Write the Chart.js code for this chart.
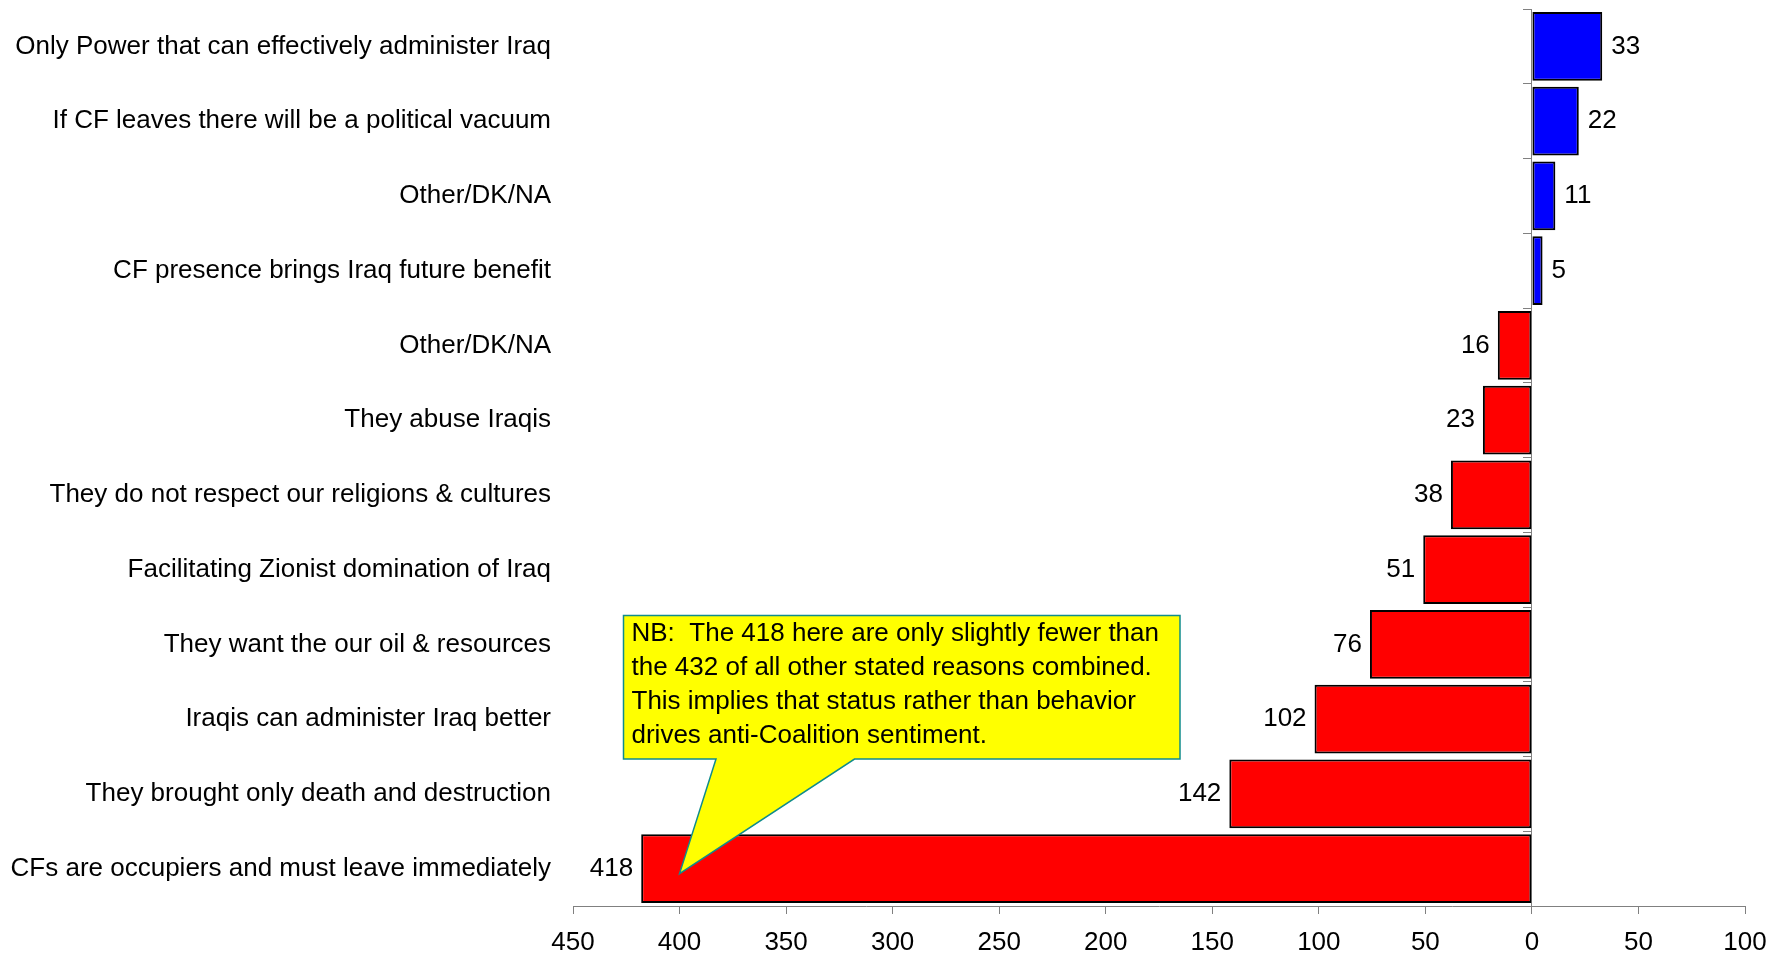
<!DOCTYPE html>
<html>
<head>
<meta charset="utf-8">
<script src="https://cdn.jsdelivr.net/npm/chart.js@4"></script>
<style>
  html, body { margin: 0; padding: 0; background: #ffffff; }
  #wrap { position: relative; width: 1784px; height: 955px; }
</style>
</head>
<body>
<div id="wrap"><canvas id="c"></canvas></div>
<script>
const categories = [
  "Only Power that can effectively administer Iraq",
  "If CF leaves there will be a political vacuum",
  "Other/DK/NA",
  "CF presence brings Iraq future benefit",
  "Other/DK/NA",
  "They abuse Iraqis",
  "They do not respect our religions & cultures",
  "Facilitating Zionist domination of Iraq",
  "They want the our oil & resources",
  "Iraqis can administer Iraq better",
  "They brought only death and destruction",
  "CFs are occupiers and must leave immediately"
];
const values = [33, 22, 11, 5, -16, -23, -38, -51, -76, -102, -142, -418];
const xMin = -450, xMax = 100, xStep = 50;
const calloutLines = [
  "NB:  The 418 here are only slightly fewer than",
  "the 432 of all other stated reasons combined.",
  "This implies that status rather than behavior",
  "drives anti-Coalition sentiment."
];
const calloutTarget = { x: -400, index: 11 };

const FONT = "'Liberation Sans', Arial, sans-serif";

const valueLabels = {
  id: 'valueLabels',
  afterDatasetsDraw(chart) {
    const ctx = chart.ctx;
    const meta = chart.getDatasetMeta(0);
    ctx.save();
    ctx.font = "26px " + FONT;
    ctx.fillStyle = '#000';
    ctx.textBaseline = 'middle';
    meta.data.forEach((bar, i) => {
      const v = values[i];
      if (v >= 0) {
        ctx.textAlign = 'left';
        ctx.fillText(String(Math.abs(v)), bar.x + 9, bar.y);
      } else {
        ctx.textAlign = 'right';
        ctx.fillText(String(Math.abs(v)), bar.x - 8, bar.y);
      }
    });
    ctx.restore();
  }
};

const callout = {
  id: 'callout',
  afterDraw(chart) {
    const ctx = chart.ctx;
    const xs = chart.scales.x, ys = chart.scales.y;
    const tipX = xs.getPixelForValue(calloutTarget.x);
    const tipY = ys.getPixelForValue(calloutTarget.index) + 5;
    const L = 623.5, R = 1180, T = 615.5, B = 759;
    const b1 = 716, b2 = 854.5;
    ctx.save();
    ctx.beginPath();
    ctx.moveTo(L, T);
    ctx.lineTo(R, T);
    ctx.lineTo(R, B);
    ctx.lineTo(b2, B);
    ctx.lineTo(tipX, tipY);
    ctx.lineTo(b1, B);
    ctx.lineTo(L, B);
    ctx.closePath();
    ctx.fillStyle = '#FFFF00';
    ctx.fill();
    ctx.lineWidth = 1.5;
    ctx.strokeStyle = '#108C8C';
    ctx.lineJoin = 'miter';
    ctx.stroke();
    ctx.font = "26px " + FONT;
    ctx.fillStyle = '#000';
    ctx.textAlign = 'left';
    ctx.textBaseline = 'middle';
    calloutLines.forEach((ln, i) => {
      ctx.fillText(ln, L + 8, T + 18 + i * 34);
    });
    ctx.restore();
  }
};

function noPad(s) { s.paddingTop = 0; s.paddingBottom = 0; }

new Chart(document.getElementById('c'), {
  type: 'bar',
  data: {
    labels: categories,
    datasets: [{
      data: values,
      backgroundColor: values.map(v => v >= 0 ? '#0000FF' : '#FF0000'),
      borderColor: '#000000',
      borderWidth: 2,
      borderSkipped: false,
      barPercentage: 0.92,
      categoryPercentage: 1.0
    }]
  },
  options: {
    indexAxis: 'y',
    responsive: true,
    maintainAspectRatio: false,
    animation: false,
    events: [],
    layout: { padding: { top: 9, right: 39, bottom: 0, left: 0 } },
    plugins: { legend: { display: false }, tooltip: { enabled: false }, title: { display: false } },
    scales: {
      x: {
        type: 'linear',
        min: xMin, max: xMax,
        position: 'bottom',
        afterFit(s) { s.height = 49; },
        ticks: {
          stepSize: xStep,
          autoSkip: false,
          maxRotation: 0,
          padding: 13,
          color: '#000',
          font: { family: FONT, size: 26 },
          callback: (v) => String(Math.abs(v))
        },
        grid: { drawOnChartArea: false, drawTicks: true, tickLength: 8, color: '#808080', lineWidth: 1 },
        border: { display: true, color: '#808080', width: 1 }
      },
      y: {
        type: 'category',
        position: 'left',
        afterFit(s) { s.width = 573; noPad(s); },
        ticks: {
          padding: 14,
          autoSkip: false,
          color: '#000',
          font: { family: FONT, size: 26 }
        },
        grid: { display: false },
        border: { display: false }
      },
      y2: {
        type: 'category',
        labels: categories,
        position: { x: 0 },
        offset: true,
        afterFit(s) { noPad(s); },
        ticks: { display: false },
        grid: { drawOnChartArea: false, drawTicks: true, tickLength: 8, color: '#808080', lineWidth: 1, offset: true },
        border: { display: true, color: '#808080', width: 1 }
      }
    }
  },
  plugins: [valueLabels, callout]
});
</script>
</body>
</html>
